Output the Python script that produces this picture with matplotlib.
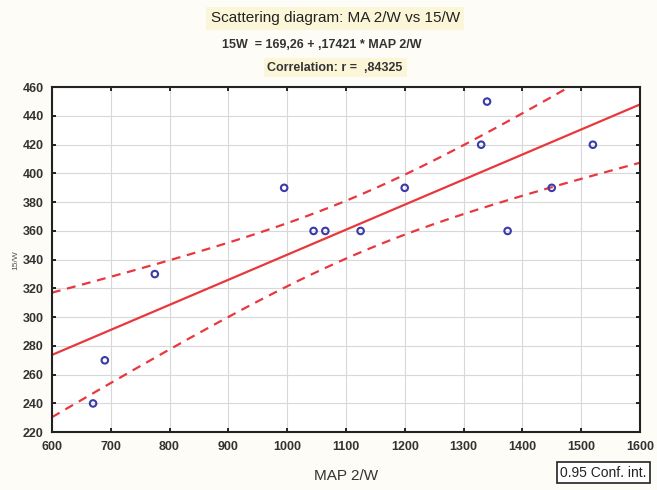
import numpy as np
import matplotlib.pyplot as plt

plt.rcParams['font.family'] = ['Liberation Sans', 'DejaVu Sans']

# data
mapW = np.array([670, 690, 775, 995, 1045, 1065, 1125, 1200, 1330, 1340, 1375, 1450, 1520])
w15 = np.array([240, 270, 330, 390, 360, 360, 360, 390, 420, 450, 360, 390, 420])

xticks = [600, 700, 800, 900, 1000, 1100, 1200, 1300, 1400, 1500, 1600]
yticks = [220, 240, 260, 280, 300, 320, 340, 360, 380, 400, 420, 440, 460]

tcrit = 2.201  # t(0.975, n-2 = 11)

# regression line + 95% confidence band for the mean
slope, icept = np.polyfit(mapW, w15, 1)
n = len(mapW)
resid = w15 - (icept + slope * mapW)
s = np.sqrt(np.sum(resid**2) / (n - 2))
sxx = np.sum((mapW - mapW.mean())**2)
xx = np.linspace(600, 1600, 200)
yy = icept + slope * xx
half = tcrit * s * np.sqrt(1.0 / n + (xx - mapW.mean())**2 / sxx)

bg = '#fdfcf6'
fig = plt.figure(figsize=(6.57, 4.9), dpi=100, facecolor=bg)
ax = fig.add_axes([0.079, 0.118, 0.895, 0.704])
ax.set_facecolor('white')

ax.grid(True, color='#d8d8d8', linewidth=0.8)
ax.set_axisbelow(True)
ax.plot(xx, yy, color='#e8383d', linewidth=1.6)
ax.plot(xx, yy + half, color='#e8383d', linewidth=1.6, linestyle=(0, (4, 3)))
ax.plot(xx, yy - half, color='#e8383d', linewidth=1.6, linestyle=(0, (4, 3)))
ax.scatter(mapW, w15, s=22, facecolors='none', edgecolors='#3a3aa8', linewidths=1.5, zorder=3)

ax.set_xlim(600, 1600)
ax.set_ylim(220, 460)
ax.set_xticks(xticks)
ax.set_yticks(yticks)
ax.tick_params(direction='in', length=3, width=1.2, top=True, right=True,
               labelsize=9, pad=6)
for lab in ax.get_xticklabels() + ax.get_yticklabels():
    lab.set_fontweight('bold')
    lab.set_color('#333333')
for sp in ax.spines.values():
    sp.set_linewidth(1.5)
    sp.set_color('#222222')

ax.set_xlabel('MAP 2/W', fontsize=11, color='#333333', labelpad=12)
ax.set_ylabel('15/W', fontsize=6, color='#555555', labelpad=2)

# header text
fig.text(0.51, 0.963, 'Scattering diagram: MA 2/W vs 15/W', ha='center', va='center',
         fontsize=11, color='#222222',
         bbox=dict(boxstyle='square,pad=0.3', facecolor='#fcf6d8', edgecolor='none'))
fig.text(0.49, 0.908, '15W  = 169,26 + ,17421 * MAP 2/W', ha='center', va='center',
         fontsize=9, fontweight='bold', color='#333333')
fig.text(0.51, 0.862, 'Correlation: r =  ,84325', ha='center', va='center',
         fontsize=9, fontweight='bold', color='#333333',
         bbox=dict(boxstyle='square,pad=0.3', facecolor='#fcf6d8', edgecolor='none'))

fig.text(0.853, 0.035, '0.95 Conf. int.', ha='left', va='center', fontsize=10, color='#222222',
         bbox=dict(boxstyle='square,pad=0.25', facecolor='white', edgecolor='#222222', linewidth=1.2))

fig.savefig('out.png', dpi=100, facecolor=bg)
